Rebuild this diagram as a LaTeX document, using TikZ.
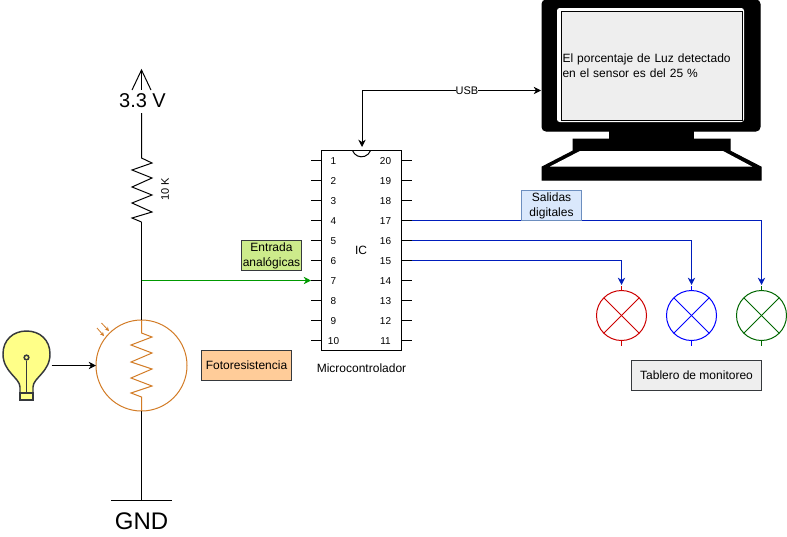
\documentclass[tikz,border=0pt]{standalone}
\usepackage{fontspec}
\setmainfont{Liberation Sans}
\usepackage{xcolor}
\usetikzlibrary{positioning,arrows.meta,calc}
\definecolor{sensOrange}{HTML}{D27B25}
\definecolor{wireBlue}{HTML}{001DBC}
\definecolor{wireGreen}{HTML}{009900}
\definecolor{lineGray}{HTML}{36393D}
\definecolor{tagGreen}{HTML}{CDEB8B}
\definecolor{tagOrange}{HTML}{FFCC99}
\definecolor{tagBlue}{HTML}{DAE8FC}
\definecolor{tagBlueLine}{HTML}{6C8EBF}
\definecolor{tagGray}{HTML}{EEEEEE}
\definecolor{bulbYellow}{HTML}{FFFF88}
\definecolor{lampRed}{HTML}{CC0000}
\definecolor{lampBlue}{HTML}{0000FF}
\definecolor{lampGreen}{HTML}{006600}
\newcommand{\normaltxt}{\fontsize{9}{11.25}\selectfont}
\newcommand{\smalltxt}{\fontsize{8.25}{10}\selectfont}
\tikzset{
  wire/.style={line width=0.75pt,draw=black},
  arrow/.style={-{Stealth[length=5.5pt,width=5.5pt]},line width=0.75pt,draw=#1,color=#1},
  arrow/.default=black,
  tagbox/.style={draw=lineGray,line width=0.75pt,align=center,font=\normaltxt,
    inner sep=0pt,outer sep=0pt},
  pinlabel/.style={font=\fontsize{7.5}{9}\selectfont,inner sep=0pt},
  lamp/.style={circle,draw=#1,line width=0.75pt,minimum size=37.5pt,inner sep=0pt,outer sep=0pt},
  black solid/.style={fill=black,draw=black,line width=0.75pt}
}

\begin{document}
\begin{tikzpicture}[x=0.75pt,y=-0.75pt]
  \useasboundingbox (0,0) rectangle (787,536);

  % monitor
  \draw[black solid] (573,139) -- (730,139) -- (730,151) -- (761,167) -- (761,180)
    -- (542,180) -- (542,167) -- (573,151) -- cycle;
  \fill[white] (580,151) -- (723,151) -- (752,166.5) -- (550,166.5) -- cycle;
  \fill[black] (609,130) rectangle (694,140);
  \node[black solid,rounded corners=3pt,minimum width=163.5pt,minimum height=98.25pt,
    inner sep=0pt,outer sep=0pt] (monitor) at (651,65.5) {};
  \node[fill=white,rounded corners=2pt,minimum width=140.25pt,minimum height=85.5pt,
    inner sep=0pt] (bezel) at (650.5,65) {};
  \node[draw=black,fill=tagGray,line width=0.75pt,minimum width=135.75pt,minimum height=81.75pt,
    text width=133.5pt,inner sep=1.1pt,align=left,font=\normaltxt] (screen) at (651.5,65.5)
    {El porcentaje de Luz detectado\\en el sensor es del 25 \%};

  % supply rail
  \node[font=\fontsize{15}{18}\selectfont,inner sep=0pt] (vcc) at (142.5,101) {3.3 V};
  \coordinate (vtip) at (141.5,70);
  \coordinate (vtail) at (141.5,90);
  \draw[wire] (132,90) -- (vtip) -- (151,90);
  \draw[wire] (vtip) -- (vtail);
  \coordinate (rtop) at (141.5,158);
  \coordinate (rbot) at (141.5,222);
  \coordinate (vrail) at (141.5,113);
  \draw[wire] (vrail) -- (rtop) -- (152,163) -- (132,170) -- (152,178) -- (132,187) -- (152,195)
    -- (132,203) -- (152,212) -- (132,218) -- (rbot);
  \node[rotate=90,font=\smalltxt,inner sep=0pt] (rlabel) at (165,189) {10 K};

  \node[circle,draw=sensOrange,line width=0.75pt,minimum size=68.25pt,inner sep=0pt,outer sep=0pt]
    (ldr) at (141.5,365.5) {};
  \coordinate (gndtop) at (141.5,500.5);
  \draw[wire] (rbot) -- (ldr.north);
  \draw[wire] (ldr.south) -- (gndtop);
  \draw[sensOrange,line width=0.75pt] (ldr.north) -- (141.5,333) -- (152,337) -- (131,345) -- (152,353)
    -- (131,362) -- (152,369) -- (131,378) -- (152,386) -- (131,393) -- (141.5,397) -- (ldr.south);
  \draw[sensOrange,-{Stealth[length=3pt,width=3pt]},line width=0.6pt] (97,328) -- (104,336);
  \draw[sensOrange,-{Stealth[length=3pt,width=3pt]},line width=0.6pt] (101.5,323) -- (109,331);
  \draw[wire] (111,500.5) -- (172,500.5);
  \node[font=\fontsize{18}{21}\selectfont,inner sep=0pt] (gnd) at (141.5,521) {GND};

  % bulb
  \draw[draw=lineGray,fill=bulbYellow,line width=1.1pt] (20,393) -- (20,387)
    .. controls (20,378) and (3,372) .. (3,354) .. controls (3,340) and (13,331) .. (26.5,331)
    .. controls (40,331) and (50,340) .. (50,354) .. controls (50,372) and (33,378) .. (33,387)
    -- (33,393) -- cycle;
  \node[draw=lineGray,fill=bulbYellow,line width=1.1pt,minimum width=9.5pt,minimum height=5pt,
    inner sep=0pt] (bulbbase) at (26.5,396.5) {};
  \node[circle,draw=lineGray,line width=1.1pt,minimum size=3.5pt,inner sep=0pt] (filament) at (26.5,357.5) {};
  \draw[draw=lineGray,line width=1.1pt] (filament) -- (bulbbase.north);
  \coordinate (bulbout) at (51.5,365.5);
  \draw[arrow] (bulbout) -- (ldr.west);

  % microcontroller
  \node[draw=black,line width=0.75pt,minimum width=60pt,minimum height=150pt,inner sep=0pt,outer sep=0pt,
    font=\normaltxt] (ic) at (361.5,250.5) {};
  \node[font=\normaltxt,inner sep=0pt] (iclabel) at (361,250) {IC};
  \draw[wire] ($(ic.north)+(-9,0)$) arc[start angle=160,end angle=20,radius=9.6];
  \foreach \n in {1,...,10}{
    \pgfmathtruncatemacro{\m}{21-\n}
    \coordinate (pin\n) at (311,140.5+20*\n);
    \coordinate (pin\m) at (411.5,140.5+20*\n);
    \draw[wire] (pin\n) -- (321,140.5+20*\n);
    \draw[wire] (402,140.5+20*\n) -- (pin\m);
    \node[pinlabel] (lab\n) at (333.5,141+20*\n) {\n};
    \node[pinlabel] (lab\m) at (385.5,141+20*\n) {\m};
  }
  \node[font=\normaltxt,inner sep=0pt,below=9.5pt of ic.south] (mcu) {Microcontrolador};

  % usb link
  \coordinate (usbic) at (362,147);
  \coordinate (usbmon) at (541,90.5);
  \draw[{Stealth[length=5.5pt,width=5.5pt]}-{Stealth[length=5.5pt,width=5.5pt]},wire] (usbic) |- (usbmon)
    node[pos=0.793,fill=white,font=\smalltxt,inner sep=0pt] (usb) {USB};

  % analog input
  \coordinate (tapldr) at (141.5,280.5);
  \draw[arrow=wireGreen] (tapldr) -- (pin7);
  \node[tagbox,fill=tagGreen,minimum width=45pt,minimum height=22.5pt] (analog)
    at (271.5,255.5) {Entrada\\analógicas};
  \node[tagbox,fill=tagOrange,minimum width=67.5pt,minimum height=22.5pt] (fotor)
    at (246.5,365.5) {Fotoresistencia};

  % lamps
  \foreach \name/\px/\col/\pin in {lampa/621.5/lampRed/15,lampb/691.5/lampBlue/16,lampc/761.5/lampGreen/17}{
    \node[lamp=\col] (\name) at (\px,315.5) {};
    \draw[\col,line width=0.75pt] (\name.45) -- (\name.225);
    \draw[\col,line width=0.75pt] (\name.135) -- (\name.-45);
    \draw[\col,line width=0.75pt] (\name.north) -- ++(0,-5);
    \draw[\col,line width=0.75pt] (\name.south) -- ++(0,5);
    \draw[arrow=wireBlue] (pin\pin) -| ($(\name.north)+(0,-5.5)$);
  }
  \node[tagbox,fill=tagBlue,draw=tagBlueLine,minimum width=45pt,minimum height=22.5pt] (salidas)
    at (551.5,205.5) {Salidas\\digitales};
  \node[tagbox,fill=tagGray,minimum width=97.5pt,minimum height=22.5pt] (tablero)
    at (696.5,375.5) {Tablero de monitoreo};
\end{tikzpicture}
\end{document}
